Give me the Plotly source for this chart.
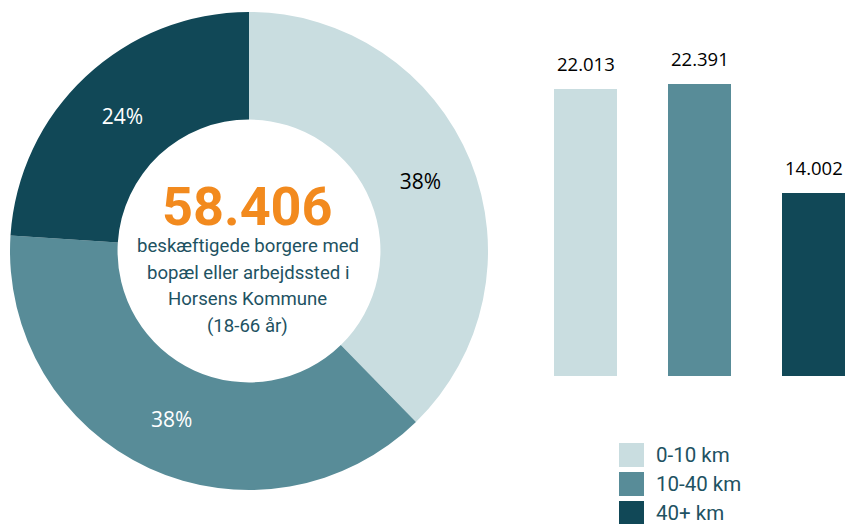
import plotly.graph_objects as go

# ---- data ----
categories = ["0-10 km", "10-40 km", "40+ km"]
values = [22013, 22391, 14002]
colors = ["#C9DDE0", "#588C98", "#114857"]
pct_text_colors = ["#000000", "#FFFFFF", "#FFFFFF"]
total_label = "58.406"
center_lines = ["beskæftigede borgere med", "bopæl eller arbejdssted i", "Horsens Kommune", "(18-66 år)"]

W, H = 846, 524
TEAL_TEXT = "#1E5262"
ORANGE = "#F28A1E"

def px_x(x):
    return x / W

def px_y(y):
    return 1 - y / H

fig = go.Figure()

# Donut
fig.add_trace(go.Pie(
    labels=categories,
    values=values,
    hole=0.55,
    sort=False,
    direction="clockwise",
    rotation=0,
    marker=dict(colors=colors, line=dict(width=0)),
    texttemplate="%{percent:.0%}",
    textposition="inside",
    insidetextorientation="horizontal",
    insidetextfont=dict(family="Open Sans", size=21, color=pct_text_colors),
    domain=dict(x=[px_x(10), px_x(488)], y=[px_y(490), px_y(12)]),
    showlegend=False,
    hoverinfo="label+value+percent",
))

# Bars
xs = list(range(len(categories)))
fig.add_trace(go.Bar(
    x=xs,
    y=values,
    width=0.5526,
    marker=dict(color=colors, line=dict(width=0)),
    xaxis="x", yaxis="y",
    showlegend=False,
    hovertext=categories,
))

annotations = []
for x, v in zip(xs, values):
    annotations.append(dict(
        x=x, y=v, xref="x", yref="y",
        text=f"{v:,}".replace(",", "."),
        showarrow=False, yanchor="bottom", yshift=11,
        font=dict(family="Open Sans", size=18.5, color="#000000"),
    ))

# Center text
annotations.append(dict(
    x=px_x(248), y=px_y(206), xref="paper", yref="paper",
    text=f"<b>{total_label}</b>", showarrow=False,
    font=dict(family="Roboto", size=54, color=ORANGE),
    xanchor="center", yanchor="middle",
))
for i, line in enumerate(center_lines):
    annotations.append(dict(
        x=px_x(248), y=px_y(246 + 26.7 * i), xref="paper", yref="paper",
        text=line, showarrow=False,
        font=dict(family="Roboto", size=18.6, color=TEAL_TEXT),
        xanchor="center", yanchor="middle",
    ))

# Legend (manual, large swatches)
shapes = []
for i, (cat, col) in enumerate(zip(categories, colors)):
    yc = 455 + 29 * i
    shapes.append(dict(
        type="rect", xref="paper", yref="paper",
        x0=px_x(619), x1=px_x(644), y0=px_y(yc + 12), y1=px_y(yc - 12),
        fillcolor=col, line=dict(width=0),
    ))
    annotations.append(dict(
        x=px_x(654), y=px_y(yc), xref="paper", yref="paper",
        text=cat, showarrow=False, xanchor="left", yanchor="middle",
        font=dict(family="Roboto", size=20.5, color=TEAL_TEXT),
    ))

base_px, top_px = 376, 12
unit_px = 292 / 22391
fig.update_layout(
    width=W, height=H,
    margin=dict(l=0, r=0, t=0, b=0),
    paper_bgcolor="white", plot_bgcolor="white",
    separators=",.",
    xaxis=dict(domain=[px_x(554), px_x(845)], range=[-0.2763, 2.2763],
               visible=False, fixedrange=True),
    yaxis=dict(domain=[px_y(base_px), px_y(top_px)],
               range=[0, (base_px - top_px) / unit_px],
               visible=False, fixedrange=True),
    annotations=annotations,
    shapes=shapes,
    bargap=0,
)

fig.write_html(
    "out.html",
    config={"displayModeBar": False},
    post_script="document.body.style.margin='0';document.body.style.padding='0';document.body.style.overflow='hidden';",
)
